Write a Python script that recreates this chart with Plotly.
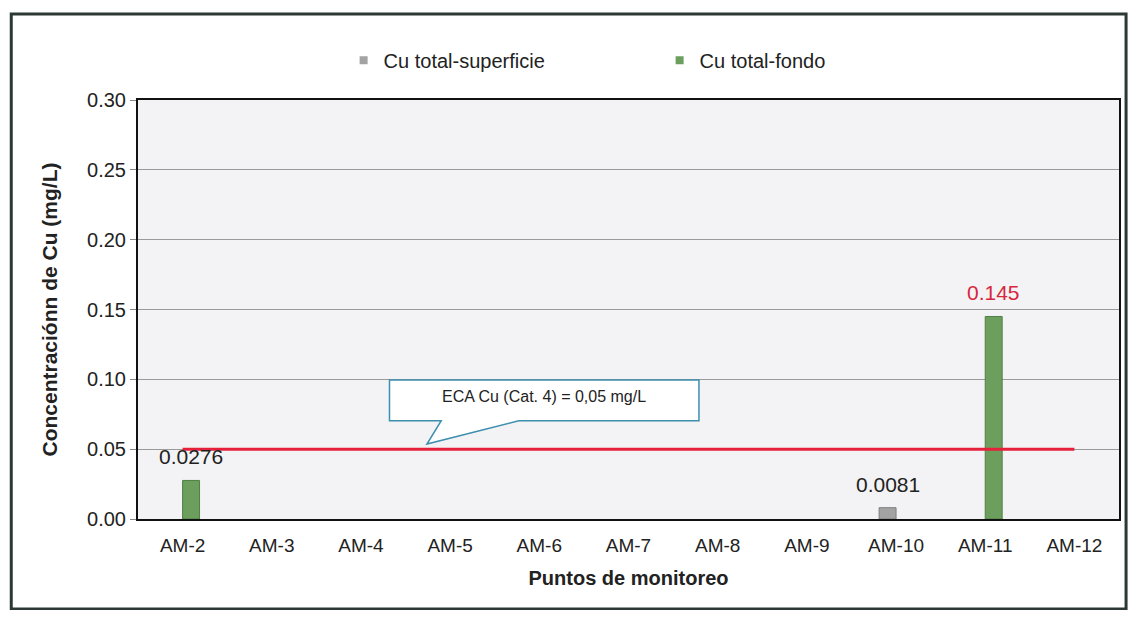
"""Cu concentration by monitoring point, with ECA limit."""

import plotly.graph_objects as go

# data
puntos = ['AM-2', 'AM-3', 'AM-4', 'AM-5', 'AM-6', 'AM-7', 'AM-8', 'AM-9', 'AM-10', 'AM-11', 'AM-12']
cu_superficie = [None, None, None, None, None, None, None, None, 0.0081, None, None]
cu_fondo = [0.0276, None, None, None, None, None, None, None, None, 0.145, None]
eca_limit = 0.05
y_ticks = [0.00, 0.05, 0.10, 0.15, 0.20, 0.25, 0.30]

FONT = 'Liberation Sans, Arial, sans-serif'
GREY = '#a3a3a3'
GREEN = '#6c9f5e'

fig = go.Figure()

fig.add_trace(go.Bar(
    x=puntos,
    y=cu_superficie,
    name='Cu total-superficie',
    marker=dict(color=GREY, line=dict(color='#7f7f7f', width=1)),
    showlegend=False
))

fig.add_trace(go.Bar(
    x=puntos,
    y=cu_fondo,
    name='Cu total-fondo',
    marker=dict(color=GREEN, line=dict(color='#4f7f45', width=1)),
    showlegend=False
))

# legend entries with small square keys
for name, color in [('Cu total-superficie', GREY), ('Cu total-fondo', GREEN)]:
    fig.add_trace(go.Scatter(
        x=[None], y=[None], mode='markers', name=name,
        marker=dict(symbol='square', size=8, color=color)
    ))

# ECA limit line
fig.add_trace(go.Scatter(
    x=puntos,
    y=[eca_limit] * len(puntos),
    mode='lines',
    line=dict(color='#e5203a', width=3),
    showlegend=False,
    hoverinfo='skip'
))

# value labels above the bars
for values, shift in [(cu_superficie, -8.5), (cu_fondo, 8.5)]:
    for p, v in zip(puntos, values):
        if v is None:
            continue
        fig.add_annotation(
            x=p, y=v, xref='x', yref='y', text=f'{v:g}', showarrow=False,
            xshift=shift, yshift=10, yanchor='bottom',
            font=dict(size=21, color='#d7263d' if v > eca_limit else '#222222', family=FONT)
        )

# callout bubble
fig.add_shape(
    type='path', xref='x', yref='y',
    path='M 2.32,0.0995 L 5.79,0.0995 L 5.79,0.0704 L 3.77,0.0704 L 2.74,0.0537 L 2.90,0.0704 L 2.32,0.0704 Z',
    fillcolor='white', line=dict(color='#3d8fae', width=1.5), layer='above'
)
fig.add_annotation(
    x=4.05, y=0.0875, xref='x', yref='y',
    text='ECA Cu (Cat. 4) = 0,05 mg/L', showarrow=False,
    font=dict(size=16, color='#222222', family=FONT)
)

# outer frame
fig.add_shape(
    type='rect', xref='paper', yref='paper',
    x0=-0.1292, x1=1.0072, y0=-0.2148, y1=1.2053,
    line=dict(color='#2b3835', width=3), fillcolor='rgba(0,0,0,0)', layer='below'
)

fig.update_layout(
    width=1122,
    height=602,
    margin=dict(l=130, r=9, t=92, b=91),
    paper_bgcolor='white',
    plot_bgcolor='#f3f3f5',
    barmode='group',
    bargap=0.62,
    font=dict(family=FONT, color='#222222'),
    showlegend=True,
    legend=dict(
        orientation='h', x=0.2096, xanchor='left', y=1.095, yanchor='middle',
        font=dict(size=20, color='#222222'),
        entrywidth=271, entrywidthmode='pixels', itemwidth=30,
        bgcolor='rgba(0,0,0,0)', traceorder='normal'
    ),
    xaxis=dict(
        title=dict(text='<b>Puntos de monitoreo</b>', font=dict(size=20), standoff=16),
        tickfont=dict(size=19),
        ticklabelstandoff=8,
        showline=True, linecolor='#111111', linewidth=2, mirror=True,
        ticks='', showgrid=False
    ),
    yaxis=dict(
        title=dict(text='<b>Concentraciónn de Cu (mg/L)</b>', font=dict(size=21), standoff=24),
        range=[0, 0.30],
        tickvals=y_ticks,
        tickformat='.2f',
        tickfont=dict(size=20),
        ticks='outside', ticklen=6, tickcolor='#888888',
        showline=True, linecolor='#111111', linewidth=2, mirror=True,
        showgrid=True, gridcolor='#9a9a9a', gridwidth=1,
        zeroline=False
    )
)

fig.write_html("out.html")
